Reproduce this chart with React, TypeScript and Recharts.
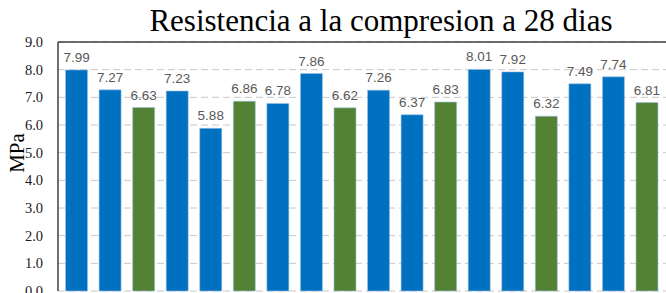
import React from 'react';
import { BarChart, Bar, XAxis, YAxis, CartesianGrid, LabelList, Cell, ReferenceLine } from 'recharts';

const categories = ['1','2','3','4','5','6','7','8','9','10','11','12','13','14','15','16','17','18'];
const values = [7.99, 7.27, 6.63, 7.23, 5.88, 6.86, 6.78, 7.86, 6.62, 7.26, 6.37, 6.83, 8.01, 7.92, 6.32, 7.49, 7.74, 6.81];
const groups = ['A','A','B','A','A','B','A','A','B','A','A','B','A','A','B','A','A','B'];
const yTicks = [0, 1, 2, 3, 4, 5, 6, 7, 8, 9];
const title = 'Resistencia a la compresion a 28 dias';
const yLabel = 'MPa';

const groupColor: Record<string, string> = { A: '#0070C0', B: '#548235' };

const data = categories.map((c, i) => ({ cat: c, value: values[i], group: groups[i] }));

export default function App() {
  return (
    <div style={{ position: 'absolute', left: 0, top: 0, width: 666, height: 293, background: '#fff' }}>
      <div
        style={{
          position: 'absolute',
          left: 0,
          width: 762,
          top: 1,
          textAlign: 'center',
          fontFamily: '"Liberation Serif", "Times New Roman", serif',
          fontSize: 31,
          lineHeight: '40px',
          color: '#000',
          whiteSpace: 'nowrap',
        }}
      >
        {title}
      </div>
      <BarChart
        width={666}
        height={293}
        data={data}
        margin={{ top: 42, right: 0, bottom: 2, left: 0 }}
        barCategoryGap="16.5%"
      >
        <CartesianGrid vertical={false} stroke="#c8c8c8" strokeDasharray="7 4" />
        <XAxis
          dataKey="cat"
          tick={false}
          tickLine={false}
          height={0}
          axisLine={{ stroke: '#404040', strokeWidth: 1.5 }}
          padding={{ left: 2, right: 2 }}
        />
        <YAxis
          width={58}
          domain={[0, 9]}
          ticks={yTicks}
          interval={0}
          tickFormatter={(v: number) => v.toFixed(1)}
          tickSize={0}
          tickMargin={15}
          tickLine={false}
          axisLine={{ stroke: '#404040', strokeWidth: 1.5 }}
          tick={{ fill: '#1a1a1a', fontSize: 14.5, fontFamily: '"Liberation Serif", "Times New Roman", serif' }}
          label={{
            content: () => {
              const cx = 17;
              const cy = 153;
              return (
                <text
                  x={cx}
                  y={cy}
                  transform={`rotate(-90 ${cx} ${cy})`}
                  textAnchor="middle"
                  dominantBaseline="central"
                  fontSize={21}
                  fontFamily='"Liberation Serif", "Times New Roman", serif'
                  fill="#000"
                >
                  {yLabel}
                </text>
              );
            },
          }}
        />
        <ReferenceLine y={9} stroke="#404040" strokeWidth={1.5} />
        <Bar dataKey="value" isAnimationActive={false}>
          {data.map((d, i) => (
            <Cell key={i} fill={groupColor[d.group]} stroke="#9dc3e6" strokeWidth={0.6} />
          ))}
          <LabelList
            dataKey="value"
            position="top"
            offset={8}
            formatter={(v: number) => v.toFixed(2)}
            style={{ fill: '#595959', fontSize: 13.5, fontFamily: '"Liberation Sans", Arial, sans-serif' }}
          />
        </Bar>
      </BarChart>
    </div>
  );
}
